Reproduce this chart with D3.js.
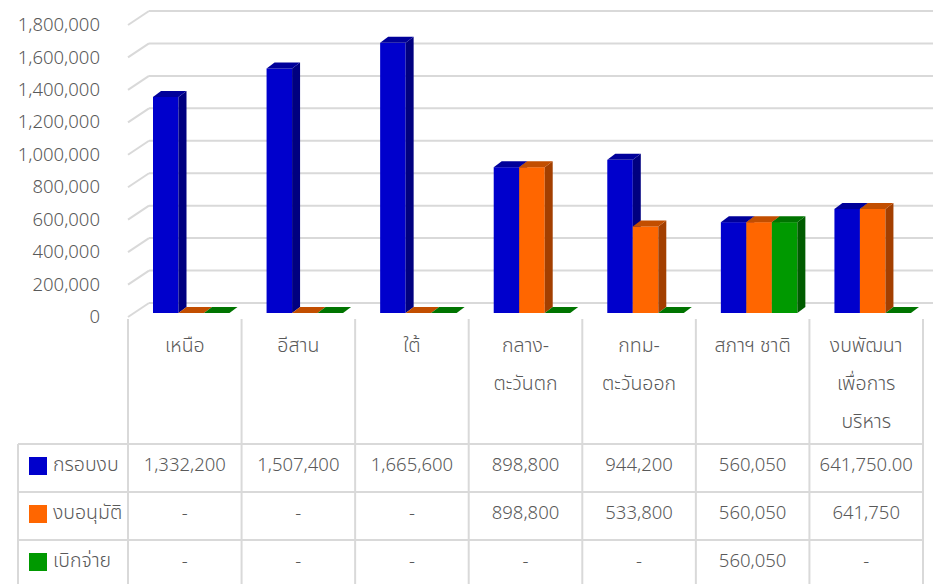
<!DOCTYPE html>
<html><head><meta charset="utf-8">
<script src="https://cdn.jsdelivr.net/npm/d3@7/dist/d3.min.js"></script>
<style>
body{margin:0;background:#fff;}
svg text{font-family:"Leelawadee UI","Noto Sans Thai","Tahoma","Noto Sans","DejaVu Sans",sans-serif;fill:#595959;font-weight:300;}
</style></head>
<body><svg id="c" width="933" height="584"></svg>
<script>
const categories = [["เหนือ"],["อีสาน"],["ใต้"],["กลาง-","ตะวันตก"],["กทม-","ตะวันออก"],["สภาฯ ชาติ"],["งบพัฒนา","เพื่อการ","บริหาร"]];
const seriesNames = ["กรอบงบ","งบอนุมัติ","เบิกจ่าย"];
const frameValues = [1332200,1507400,1665600,898800,944200,560050,641750];
const approvedValues = [0,0,0,898800,533800,560050,641750];
const spentValues = [0,0,0,0,0,560050,0];
const frameLabels = ["1,332,200","1,507,400","1,665,600","898,800","944,200","560,050","641,750.00"];
const approvedLabels = ["-","-","-","898,800","533,800","560,050","641,750"];
const spentLabels = ["-","-","-","-","-","560,050","-"];
const yTicks = [0,200000,400000,600000,800000,1000000,1200000,1400000,1600000,1800000];

const colors = [
  {front:"#0000CC", side:"#000080", top:"#00009A"},
  {front:"#FF6600", side:"#A33F00", top:"#C24E00"},
  {front:"#009900", side:"#005C00", top:"#007400"}
];
const series = [frameValues, approvedValues, spentValues];
const labels = [frameLabels, approvedLabels, spentLabels];

const svg = d3.select("#c");
const W = 933;
const y = d3.scaleLinear().domain([0,1800000]).range([303,11]);
const x = d3.scaleBand().domain(d3.range(categories.length)).range([128,923]).padding(0);
const wallDx = 21, wallDy = 14;
const grid = "#D9D9D9";

const g = svg.append("g");
yTicks.forEach(t => {
  const yy = y(t);
  g.append("line").attr("x1",128+wallDx).attr("x2",W).attr("y1",yy).attr("y2",yy)
    .attr("stroke",grid).attr("stroke-width",2);
  g.append("line").attr("x1",128).attr("y1",yy+wallDy).attr("x2",128+wallDx).attr("y2",yy)
    .attr("stroke",grid).attr("stroke-width",2);
  g.append("text").attr("x",100).attr("y",yy+wallDy+1).attr("text-anchor","end")
    .attr("dominant-baseline","middle").attr("font-size",18.5).text(d3.format(",")(t));
});

const bw = 25.5, bdx = 8, bdy = 6, baseOff = 10, startOff = 25;
const bars = svg.append("g");
categories.forEach((c,ci) => {
  series.forEach((vals,si) => {
    const v = vals[ci];
    const x0 = x(ci) + startOff + si*bw, x1 = x0 + bw;
    const yb = y(0) + baseOff, yt = y(v) + baseOff;
    const col = colors[si];
    if (v > 0) {
      bars.append("rect").attr("x",x0).attr("y",yt).attr("width",bw).attr("height",yb-yt).attr("fill",col.front);
      bars.append("path").attr("d",`M${x1},${yt}L${x1+bdx},${yt-bdy}L${x1+bdx},${yb-bdy}L${x1},${yb}Z`).attr("fill",col.side);
    }
    bars.append("path").attr("d",`M${x0},${yt}L${x1},${yt}L${x1+bdx},${yt-bdy}L${x0+bdx},${yt-bdy}Z`).attr("fill",col.top);
  });
});

const tableTop = 444, rowH = 48;
const lines = svg.append("g").attr("stroke",grid).attr("stroke-width",2);
for (let i=0;i<=categories.length;i++){
  const xx = i<categories.length ? x(i) : 923;
  lines.append("line").attr("x1",xx).attr("x2",xx).attr("y1",319).attr("y2",600);
}
lines.append("line").attr("x1",18).attr("x2",18).attr("y1",tableTop).attr("y2",600);
for (let r=0;r<=3;r++){
  lines.append("line").attr("x1",18).attr("x2",923).attr("y1",tableTop+r*rowH).attr("y2",tableTop+r*rowH);
}

categories.forEach((c,ci) => {
  c.forEach((line,li) => {
    svg.append("text").attr("x",x(ci)+x.bandwidth()/2).attr("y",347+li*38)
      .attr("text-anchor","middle").attr("dominant-baseline","middle").attr("font-size",19.5).text(line);
  });
});

seriesNames.forEach((name,si) => {
  const cy = tableTop + si*rowH + rowH/2 - 2;
  svg.append("rect").attr("x",29).attr("y",cy-9).attr("width",18).attr("height",18).attr("fill",colors[si].front);
  svg.append("text").attr("x",53).attr("y",cy).attr("dominant-baseline","middle").attr("font-size",19.5).text(name);
  labels[si].forEach((lab,ci) => {
    svg.append("text").attr("x",x(ci)+x.bandwidth()/2).attr("y",cy).attr("text-anchor","middle")
      .attr("dominant-baseline","middle").attr("font-size",18.5).text(lab);
  });
});
</script></body></html>
